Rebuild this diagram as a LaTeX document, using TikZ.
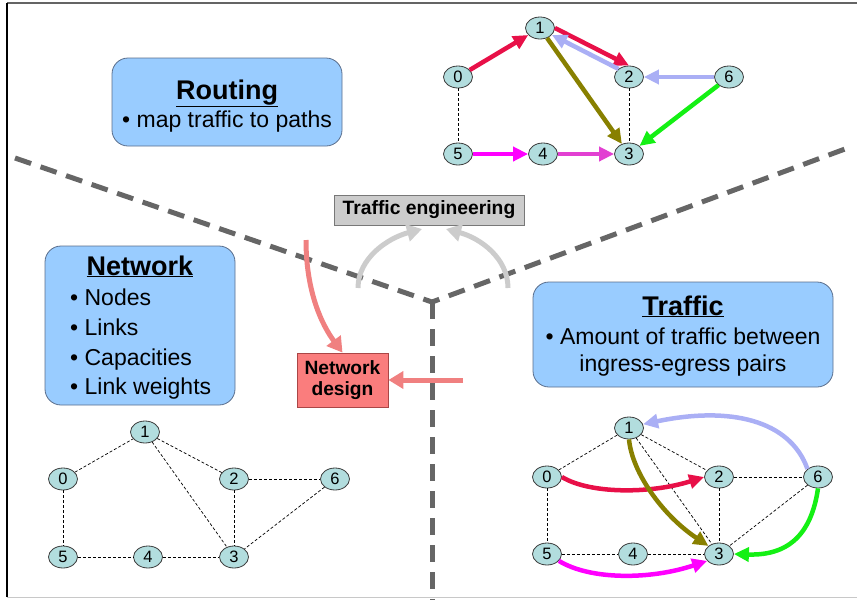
\documentclass[tikz,border=0pt]{standalone}
\usepackage{fontspec}
\setmainfont{Liberation Sans}
\usetikzlibrary{arrows.meta,shapes.geometric}

\definecolor{nodefill}{RGB}{178,221,222}
\definecolor{nodeedge}{RGB}{60,60,60}
\definecolor{boxfill}{RGB}{153,204,255}
\definecolor{boxedge}{RGB}{90,110,140}
\definecolor{divgray}{RGB}{102,102,102}
\definecolor{tefill}{RGB}{204,204,204}
\definecolor{teedge}{RGB}{120,120,120}
\definecolor{designfill}{RGB}{250,125,125}
\definecolor{designedge}{RGB}{170,70,70}
\definecolor{salmon}{RGB}{240,128,128}
\definecolor{softgray}{RGB}{204,204,204}
\definecolor{crimson}{RGB}{232,16,72}
\definecolor{olivebrown}{RGB}{136,128,0}
\definecolor{lavender}{RGB}{170,175,245}
\definecolor{brightgreen}{RGB}{20,240,20}
\definecolor{hotmagenta}{RGB}{255,0,255}
\definecolor{softmagenta}{RGB}{226,64,210}
\definecolor{frametop}{RGB}{100,100,100}
\definecolor{framebottom}{RGB}{200,200,200}

\begin{document}
\begin{tikzpicture}[x=1pt,y=-1pt,
  gn/.style={ellipse,draw=nodeedge,line width=0.8pt,fill=nodefill,
    minimum width=29pt,minimum height=22pt,inner sep=0pt,
    font=\fontsize{16.5}{16.5}\selectfont},
  link/.style={dash pattern=on 3pt off 2pt,line width=0.7pt,black},
  flow/.style={line width=4.5pt,-{Triangle[length=15pt,width=14pt]}},
  bigflow/.style={line width=5pt,-{Triangle[length=15pt,width=17pt]}},
  divider/.style={line width=5pt,color=divgray,dash pattern=on 17pt off 10pt},
  bluebox/.style={draw=boxedge,fill=boxfill,rounded corners=16pt,line width=0.8pt,inner sep=0pt},
  titletext/.style={font=\fontsize{27}{30}\selectfont\bfseries},
  bodytext/.style={font=\fontsize{23}{26}\selectfont},
]
\useasboundingbox (0,0) rectangle (857,603);

% frame
\coordinate (ftl) at (7,2.5);
\coordinate (ftr) at (857,2.5);
\coordinate (fbl) at (7,597);
\coordinate (fbr) at (857,597);
\draw[line width=2pt,frametop] (ftl) -- (ftr);
\draw[line width=1pt,framebottom] (fbl) -- (fbr);
\draw[line width=1.5pt,black] (ftl) -- (fbl);

% dividers between the three areas
\coordinate (hub) at (432,302);
\coordinate (dl) at (15,158);
\coordinate (dr) at (845,149);
\coordinate (db) at (432,600);
\draw[divider] (dl) -- (hub) -- (dr);
\draw[divider] (hub) -- (db);

% Routing box
\node[bluebox,minimum width=230pt,minimum height=88pt] (routing) at (227,102) {};
\node[titletext,anchor=base] (routingtitle) at (227,99) {\underline{Routing}};
\node[bodytext,anchor=base] (routingitem) at (227,127) {\textbullet\ map traffic to paths};

% Network box
\node[bluebox,minimum width=190pt,minimum height=159pt] (network) at (140,325.5) {};
\node[titletext,anchor=base] (networktitle) at (140,275) {\underline{Network}};
\node[bodytext,anchor=base west,inner sep=0pt] (nitem1) at (70,305) {\textbullet\ Nodes};
\node[bodytext,anchor=base west,inner sep=0pt] (nitem2) at (70,335) {\textbullet\ Links};
\node[bodytext,anchor=base west,inner sep=0pt] (nitem3) at (70,365) {\textbullet\ Capacities};
\node[bodytext,anchor=base west,inner sep=0pt] (nitem4) at (70,394) {\textbullet\ Link weights};

% Traffic box
\node[bluebox,minimum width=300pt,minimum height=105pt] (traffic) at (683,334.5) {};
\node[titletext,anchor=base] (traffictitle) at (683,315) {\underline{Traffic}};
\node[bodytext,anchor=base] (titem1) at (683,344) {\textbullet\ Amount of traffic between};
\node[bodytext,anchor=base] (titem2) at (683,371) {ingress-egress pairs};

% Traffic engineering and network design
\node[draw=teedge,fill=tefill,line width=0.8pt,minimum width=190pt,minimum height=30pt,
      inner sep=0pt,font=\fontsize{19.3}{20}\selectfont\bfseries] (te) at (429,210) {Traffic engineering};
\node[draw=designedge,fill=designfill,line width=0.8pt,minimum width=91pt,minimum height=54pt,
      inner sep=0pt,align=center,font=\fontsize{19.2}{20.5}\selectfont\bfseries] (design) at (342.5,380) {Network\\design};

\coordinate (gl) at (358,288);
\coordinate (glend) at (422,229);
\coordinate (gr) at (508,288);
\coordinate (grend) at (446,229);
\draw[bigflow,softgray] (gl) .. controls (358,258) and (388,238) .. (glend);
\draw[bigflow,softgray] (gr) .. controls (508,258) and (480,238) .. (grend);

\coordinate (ps) at (306,240);
\coordinate (ps2) at (463,380);
\draw[bigflow,salmon] (ps) .. controls (306,292) and (322,325) .. (design.north);
\draw[bigflow,salmon] (ps2) -- (design.east);

% routing example (top right)
\node[gn] (t0) at (458,77) {0};
\node[gn] (t1) at (540,28) {1};
\node[gn] (t2) at (629,77) {2};
\node[gn] (t6) at (729,77) {6};
\node[gn] (t5) at (458,154) {5};
\node[gn] (t4) at (543,154) {4};
\node[gn] (t3) at (629,154) {3};
\draw[link] (t0) -- (t5);
\draw[link] (t2) -- (t3);
\draw[flow,crimson] (t0) -- (t1);
\draw[flow,crimson] (t1.east) -- (t2.north);
\draw[flow,lavender] (t2.north west) -- (t1.-30);
\draw[flow,lavender] (t6) -- (t2);
\draw[flow,olivebrown] (t1) -- (t3);
\draw[flow,brightgreen] (t6) -- (t3);
\draw[flow,hotmagenta] (t5) -- (t4);
\draw[flow,softmagenta] (t4) -- (t3);

% network example (bottom left)
\node[gn] (a0) at (63,479) {0};
\node[gn] (a1) at (145,432) {1};
\node[gn] (a2) at (234,479) {2};
\node[gn] (a6) at (335,479) {6};
\node[gn] (a5) at (63,557) {5};
\node[gn] (a4) at (148,557) {4};
\node[gn] (a3) at (234,557) {3};
\draw[link] (a0) -- (a1);
\draw[link] (a1) -- (a2);
\draw[link] (a1) -- (a3);
\draw[link] (a2) -- (a6);
\draw[link] (a2) -- (a3);
\draw[link] (a6) -- (a3);
\draw[link] (a0) -- (a5);
\draw[link] (a5) -- (a4);
\draw[link] (a4) -- (a3);

% traffic example (bottom right)
\node[gn] (b0) at (547,477) {0};
\node[gn] (b1) at (629,428) {1};
\node[gn] (b2) at (719,477) {2};
\node[gn] (b6) at (818,477) {6};
\node[gn] (b5) at (547,554) {5};
\node[gn] (b4) at (633,554) {4};
\node[gn] (b3) at (719,554) {3};
\draw[link] (b0) -- (b1);
\draw[link] (b1) -- (b2);
\draw[link] (b1) -- (b3);
\draw[link] (b2) -- (b6);
\draw[link] (b2) -- (b3);
\draw[link] (b6) -- (b3);
\draw[link] (b0) -- (b5);
\draw[link] (b5) -- (b4);
\draw[link] (b4) -- (b3);
\draw[flow,crimson] (b0.east) .. controls (590,494) and (650,494) .. (b2.west);
\draw[flow,olivebrown] (b1.south) .. controls (632,472) and (662,515) .. (b3.north west);
\draw[flow,lavender] (b6.north west) .. controls (790,420) and (730,406) .. (b1.15);
\draw[flow,brightgreen] (b6.south) .. controls (812,530) and (792,556) .. (b3.east);
\draw[flow,hotmagenta] (b5.-30) .. controls (590,580) and (650,580) .. (b3.210);
\end{tikzpicture}
\end{document}
